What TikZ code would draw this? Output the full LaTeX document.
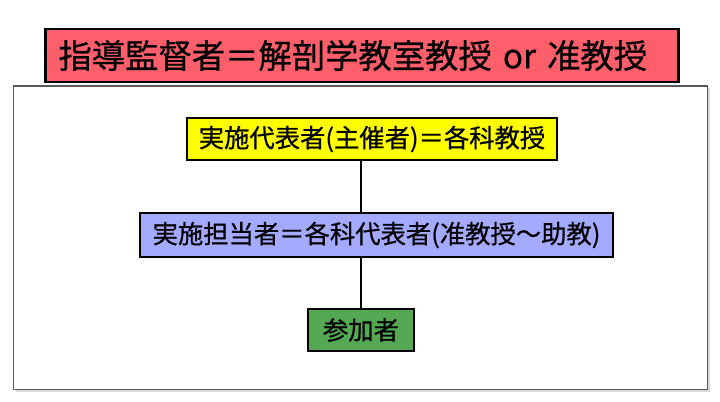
\documentclass[tikz,border=0pt]{standalone}
\usepackage{fontspec}
\setmainfont{Noto Sans CJK JP}[FakeBold=0.7]
\definecolor{supred}{RGB}{255,95,106}
\definecolor{headyellow}{RGB}{255,255,0}
\definecolor{staffblue}{RGB}{163,170,255}
\definecolor{joingreen}{RGB}{84,168,84}
\begin{document}
\begin{tikzpicture}[x=0.75pt,y=-0.75pt]

        \useasboundingbox (0,0) rectangle (720,402);

        % frame
        \fill[black!15] (15.5,88) rectangle (710,392);
        \filldraw[fill=white, draw=black!65, line width=1pt] (13.5,86) rectangle (707.5,389.5);

        \begin{scope}[every node/.style={rectangle, draw, line width=2.2pt, inner sep=0pt, font=\fontsize{19}{22}\selectfont}]
          \node[fill=supred, anchor=west, text width=455pt, align=left, inner xsep=9.75pt,
                minimum height=39.75pt, font=\fontsize{25}{30}\selectfont] (0) at (44,55.5)
                {指導監督者＝解剖学教室教授 or 准教授};
          \node[fill=headyellow, minimum width=277.5pt, minimum height=31.5pt] (1) at (372,139)
                {実施代表者(主催者)＝各科教授};
          \node[fill=staffblue, minimum width=354.75pt, minimum height=33pt] (2) at (376.5,235)
                {実施担当者＝各科代表者(准教授～助教)};
          \node[fill=joingreen, minimum width=79.5pt, minimum height=31.5pt] (3) at (361,330)
                {参加者};
        \end{scope}

        \begin{scope}[every edge/.style={draw, line width=1.6pt}]
          \path (1.south -| 3) edge (2.north -| 3);
          \path (2.south -| 3) edge (3.north);
        \end{scope}

      \end{tikzpicture}
\end{document}
